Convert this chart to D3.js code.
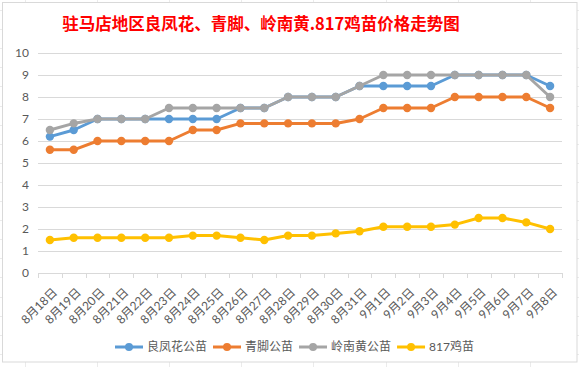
<!DOCTYPE html>
<html><head><meta charset="utf-8">
<script src="https://cdn.jsdelivr.net/npm/d3@7"></script>
<style>body{margin:0;background:#fff}svg{display:block}</style>
</head><body>
<script>
const categories = ["8月18日","8月19日","8月20日","8月21日","8月22日","8月23日","8月24日","8月25日","8月26日","8月27日","8月28日","8月29日","8月30日","8月31日","9月1日","9月2日","9月3日","9月4日","9月5日","9月6日","9月7日","9月8日"];
const liangfenghua = [6.2,6.5,7,7,7,7,7,7,7.5,7.5,8,8,8,8.5,8.5,8.5,8.5,9,9,9,9,8.5];
const qingjiao = [5.6,5.6,6,6,6,6,6.5,6.5,6.8,6.8,6.8,6.8,6.8,7,7.5,7.5,7.5,8,8,8,8,7.5];
const lingnanhuang = [6.5,6.8,7,7,7,7.5,7.5,7.5,7.5,7.5,8,8,8,8.5,9,9,9,9,9,9,9,8];
const ji817 = [1.5,1.6,1.6,1.6,1.6,1.6,1.7,1.7,1.6,1.5,1.7,1.7,1.8,1.9,2.1,2.1,2.1,2.2,2.5,2.5,2.3,2.0];
const seriesNames = ["良凤花公苗","青脚公苗","岭南黄公苗","817鸡苗"];
const seriesColors = ["#5B9BD5","#ED7D31","#A5A5A5","#FFC000"];
const yTicks = [0,1,2,3,4,5,6,7,8,9,10];
const title = "驻马店地区良凤花、青脚、岭南黄.817鸡苗价格走势图";

const W = 579, H = 367;
const svg = d3.select("body").append("svg").attr("width", W).attr("height", H);

// spreadsheet cell grid behind the chart
const bg = svg.append("g").attr("stroke", "#ebebeb").attr("stroke-width", 1);
d3.range(25, W, 72.1).forEach(x => bg.append("line").attr("x1", Math.round(x)+0.5).attr("x2", Math.round(x)+0.5).attr("y1", 0).attr("y2", H));
d3.range(10, H, 19.1).forEach(y => bg.append("line").attr("x1", 0).attr("x2", W).attr("y1", Math.round(y)+0.5).attr("y2", Math.round(y)+0.5));

svg.append("rect").attr("x", 2.5).attr("y", 2.5).attr("width", 574.5).attr("height", 359.5)
  .attr("fill", "#fff").attr("stroke", "#d9d9d9");

const font = "Lato, 'Noto Sans CJK SC', sans-serif";
svg.append("text").attr("x", 261).attr("y", 30).attr("text-anchor", "middle")
  .attr("font-family", "'Noto Sans CJK SC', sans-serif").attr("font-weight", "bold")
  .attr("font-size", 16.5).attr("fill", "#FF0000").text(title);

const x = d3.scaleBand().domain(categories).range([38, 562]);
const y = d3.scaleLinear().domain([0, 10]).range([273, 53]);

const grid = svg.append("g");
yTicks.forEach(t => {
  if (t === 0) return;
  grid.append("line").attr("x1", 38).attr("x2", 562).attr("y1", Math.round(y(t))+0.5).attr("y2", Math.round(y(t))+0.5)
    .attr("stroke", "#d9d9d9").attr("stroke-width", 1);
});

const yAxis = svg.append("g").attr("transform", "translate(38,0)")
  .call(d3.axisLeft(y).tickValues(yTicks).tickSize(0).tickPadding(9));
yAxis.select(".domain").remove();
yAxis.selectAll("text").attr("font-family", font).attr("font-size", 12).attr("fill", "#595959");

// x axis line and ticks at category boundaries
const xa = svg.append("g");
xa.append("line").attr("x1", 38).attr("x2", 562).attr("y1", Math.round(y(0))+0.5).attr("y2", Math.round(y(0))+0.5).attr("stroke", "#d9d9d9");
const bounds = categories.map(c => x(c)).concat([x.range()[1]]);
bounds.forEach(b => xa.append("line").attr("x1", Math.round(b)+0.5).attr("x2", Math.round(b)+0.5)
  .attr("y1", y(0)).attr("y2", y(0)+5).attr("stroke", "#d9d9d9"));
categories.forEach(c => {
  const cx = x(c) + x.bandwidth()/2;
  xa.append("text").attr("transform", `translate(${cx+5},${y(0)+17}) rotate(-45)`)
    .attr("text-anchor", "end").attr("dy", "0.35em")
    .attr("font-family", font).attr("font-size", 12).attr("fill", "#595959").text(c);
});

const allSeries = [liangfenghua, qingjiao, lingnanhuang, ji817];
const line = d3.line().x((d, i) => x(categories[i]) + x.bandwidth()/2).y(d => y(d));
allSeries.forEach((s, k) => {
  const g = svg.append("g");
  g.append("path").datum(s).attr("d", line).attr("fill", "none")
    .attr("stroke", seriesColors[k]).attr("stroke-width", 3).attr("stroke-linejoin", "round");
  g.selectAll("circle").data(s).join("circle")
    .attr("cx", (d, i) => x(categories[i]) + x.bandwidth()/2).attr("cy", d => y(d))
    .attr("r", 4.2).attr("fill", seriesColors[k]);
});

// legend
const leg = svg.append("g");
let lx = 115; const ly = 347;
seriesNames.forEach((n, k) => {
  leg.append("line").attr("x1", lx).attr("x2", lx+28).attr("y1", ly).attr("y2", ly)
    .attr("stroke", seriesColors[k]).attr("stroke-width", 3);
  leg.append("circle").attr("cx", lx+14).attr("cy", ly).attr("r", 4).attr("fill", seriesColors[k]);
  const t = leg.append("text").attr("x", lx+32).attr("y", ly).attr("dy", "0.35em")
    .attr("font-family", font).attr("font-size", 12).attr("fill", "#595959").text(n);
  lx += 32 + t.node().getComputedTextLength() + 6;
});
</script>
</body></html>
